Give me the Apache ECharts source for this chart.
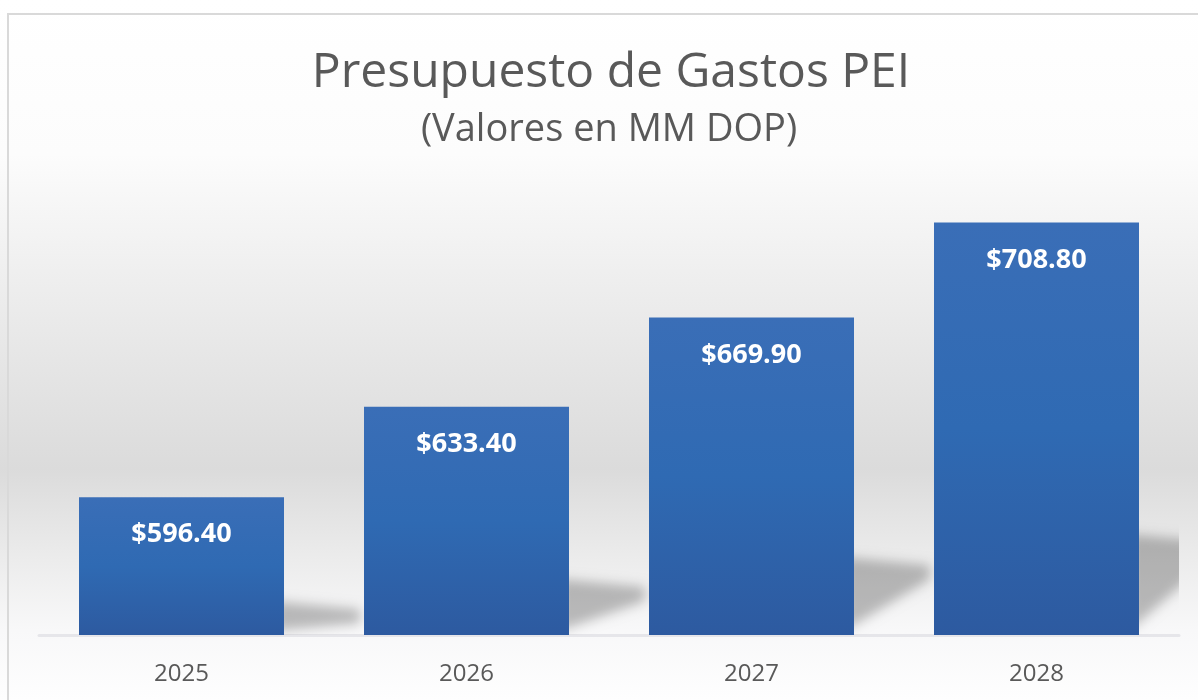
<!DOCTYPE html>
<html>
<head>
<meta charset="utf-8">
<script src="https://cdn.jsdelivr.net/npm/echarts@6/dist/echarts.min.js"></script>
<style>
  html, body { margin: 0; padding: 0; background: #fff; }
  #main { width: 1198px; height: 700px; }
</style>
</head>
<body>
<div id="main"></div>
<script>
var years = ['2025', '2026', '2027', '2028'];
var gastos = [596.4, 633.4, 669.9, 708.8];
var axisMin = 540;
var axisMax = 720;

function initchart() {
    var myChart = echarts.init(document.getElementById('main'));

    // sombra inclinada detras de cada barra (solo se ve la sombra difuminada)
    var off = 3000;
    function renderShadow(params, api) {
        var idx = api.value(0);
        var top = api.coord([idx, api.value(1)]);
        var base = api.coord([idx, axisMin]);
        var xr = base[0] + 102.5;
        var h = base[1] - top[1];
        var sTop = base[1] - 0.245 * h;
        var dx = 76;
        return {
            type: 'polygon',
            shape: {
                points: [
                    [xr - 10 - off, sTop],
                    [xr + dx - off, sTop + 8],
                    [xr + dx - off, sTop + 22],
                    [xr - 10 - off, base[1] - 4]
                ]
            },
            style: {
                fill: '#000',
                shadowBlur: 12,
                shadowOffsetX: off,
                shadowColor: 'rgba(0,0,0,0.25)'
            }
        };
    }

    var option = {
        animation: false,
        graphic: [
            {
                type: 'rect',
                z: -10,
                silent: true,
                shape: { x: 0, y: 0, width: 1198, height: 700 },
                style: {
                    fill: new echarts.graphic.LinearGradient(0, 0, 0, 1, [
                        { offset: 0, color: '#ffffff' },
                        { offset: 0.22, color: '#fcfcfc' },
                        { offset: 0.4, color: '#eeeeee' },
                        { offset: 0.67, color: '#dbdbdb' },
                        { offset: 0.8, color: '#ececec' },
                        { offset: 0.9, color: '#f8f8f9' },
                        { offset: 1, color: '#fefefe' }
                    ])
                }
            },
            {
                type: 'rect',
                z: 10,
                silent: true,
                shape: { x: 8, y: 14, width: 1200, height: 700 },
                style: { fill: 'none', stroke: '#d9d9d9', lineWidth: 2 }
            }
        ],
        title: [
            {
                text: 'Presupuesto de Gastos PEI',
                left: 606,
                textAlign: 'center',
                top: 44,
                textStyle: {
                    fontFamily: 'Open Sans',
                    fontSize: 48,
                    fontWeight: 'normal',
                    color: '#595959'
                }
            },
            {
                text: '(Valores en MM DOP)',
                left: 604,
                textAlign: 'center',
                top: 106,
                textStyle: {
                    fontFamily: 'Open Sans',
                    fontSize: 38,
                    fontWeight: 'normal',
                    color: '#595959'
                }
            }
        ],
        grid: {
            left: 39,
            right: 19,
            top: 195,
            bottom: 65
        },
        xAxis: {
            type: 'category',
            data: years,
            axisLine: { show: true, lineStyle: { color: '#e6e6ea', width: 3 } },
            axisTick: { show: false },
            axisLabel: {
                fontFamily: 'Open Sans',
                fontSize: 24,
                color: '#595959',
                margin: 27
            }
        },
        yAxis: {
            type: 'value',
            min: axisMin,
            max: axisMax,
            show: false,
            splitLine: { show: false }
        },
        series: [
            {
                type: 'custom',
                renderItem: renderShadow,
                clip: true,
                z: 1,
                silent: true,
                encode: { x: 0, y: 1 },
                data: gastos.map(function (v, i) { return [i, v]; })
            },
            {
                type: 'bar',
                data: gastos,
                barWidth: 205,
                z: 3,
                itemStyle: {
                    color: new echarts.graphic.LinearGradient(0, 0, 0, 1, [
                        { offset: 0, color: '#3a6eb7' },
                        { offset: 0.5, color: '#2f6ab3' },
                        { offset: 1, color: '#2d5aa0' }
                    ])
                },
                label: {
                    show: true,
                    position: 'insideTop',
                    distance: 24,
                    formatter: function (p) {
                        return '$' + p.value.toFixed(2);
                    },
                    fontFamily: 'Open Sans',
                    fontWeight: 'bold',
                    fontSize: 27,
                    color: '#ffffff'
                }
            }
        ]
    };
    myChart.setOption(option);
}

initchart();
</script>
</body>
</html>
